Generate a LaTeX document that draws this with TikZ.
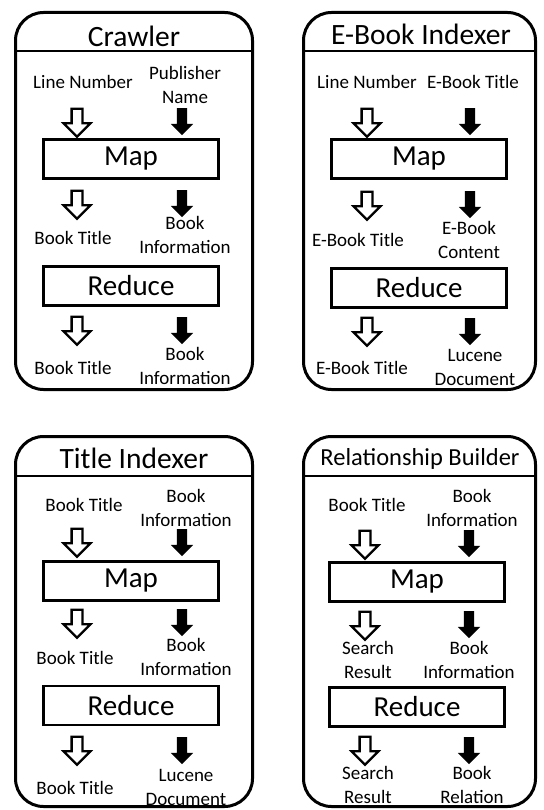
\documentclass[tikz,border=0pt]{standalone}
\usepackage{fontspec}
\setmainfont{Carlito}
\usetikzlibrary{shapes.arrows, positioning}

\begin{document}
\begin{tikzpicture}[x=1pt, y=-1pt,
    panel/.style={rectangle, draw, line width=3pt, rounded corners=28pt},
    heading/.style={font=\fontsize{29.5}{34}\selectfont, inner sep=0pt, anchor=base},
    divider/.style={line width=2pt},
    phase/.style={rectangle, draw, line width=2.7pt, minimum width=175pt,
                  minimum height=39pt, inner sep=0pt, font=\fontsize{29}{34}\selectfont},
    io/.style={align=center, inner sep=0pt, font=\fontsize{19}{24}\selectfont},
    keyarrow/.style={single arrow, draw, fill=white, line width=2.3pt, shape border rotate=270,
                     minimum height=28pt, single arrow head extend=8pt, inner ysep=0pt, inner xsep=4.25pt},
    valarrow/.style={single arrow, fill=black, shape border rotate=270,
                     minimum height=27pt, single arrow head extend=6pt, inner ysep=0pt, inner xsep=5pt}
  ]
    \useasboundingbox (0,0) rectangle (543,810);

    % Crawler
    \node[panel, minimum width=237pt, minimum height=377pt] (crawler) at (134,201) {};
    \node[heading] (crawler-title) at (134,47) {Crawler};
    \draw[divider] ([yshift=-40.5pt]crawler.north west) -- ([yshift=-40.5pt]crawler.north east);
    \node[io] (crawler-kin) at (83,82) {Line Number};
    \node[io] (crawler-vin) at (185,85) {Publisher\\Name};
    \node[keyarrow] (crawler-k1) at (77,120) {};
    \node[valarrow] (crawler-v1) at (182,119) {};
    \node[phase] (crawler-map) at (131,159) {Map};
    \node[keyarrow] (crawler-k2) at (77,202) {};
    \node[valarrow] (crawler-v2) at (182,201) {};
    \node[io] (crawler-kmid) at (73,238) {Book Title};
    \node[io] (crawler-vmid) at (185,235) {Book\\Information};
    \node[phase] (crawler-reduce) at (131,286) {Reduce};
    \node[keyarrow] (crawler-k3) at (77,328) {};
    \node[valarrow] (crawler-v3) at (182,328) {};
    \node[io] (crawler-kout) at (73,368) {Book Title};
    \node[io] (crawler-vout) at (185,366) {Book\\Information};

    % E-Book Indexer
    \node[panel, minimum width=232pt, minimum height=377pt] (ebook) at (419.5,201) {};
    \node[heading] (ebook-title) at (421,45) {E-Book Indexer};
    \draw[divider] ([yshift=-40.5pt]ebook.north west) -- ([yshift=-40.5pt]ebook.north east);
    \node[io] (ebook-kin) at (367,82) {Line Number};
    \node[io] (ebook-vin) at (473,82) {E-Book Title};
    \node[keyarrow] (ebook-k1) at (367,120) {};
    \node[valarrow] (ebook-v1) at (470,119) {};
    \node[phase] (ebook-map) at (419,159) {Map};
    \node[keyarrow] (ebook-k2) at (367,203) {};
    \node[valarrow] (ebook-v2) at (470,202) {};
    \node[io] (ebook-kmid) at (358,240) {E-Book Title};
    \node[io] (ebook-vmid) at (469,240) {E-Book\\Content};
    \node[phase] (ebook-reduce) at (419,288) {Reduce};
    \node[keyarrow] (ebook-k3) at (367,329) {};
    \node[valarrow] (ebook-v3) at (470,329) {};
    \node[io] (ebook-kout) at (362,368) {E-Book Title};
    \node[io] (ebook-vout) at (475,367) {Lucene\\Document};

    % Title Indexer
    \node[panel, minimum width=237pt, minimum height=370pt] (title) at (134,621.5) {};
    \node[heading] (title-title) at (134,468) {Title Indexer};
    \draw[divider] ([yshift=-40.5pt]title.north west) -- ([yshift=-40.5pt]title.north east);
    \node[io] (title-kin) at (84,505) {Book Title};
    \node[io] (title-vin) at (186,508) {Book\\Information};
    \node[keyarrow] (title-k1) at (77,540) {};
    \node[valarrow] (title-v1) at (182,540) {};
    \node[phase] (title-map) at (131,581) {Map};
    \node[keyarrow] (title-k2) at (77,621) {};
    \node[valarrow] (title-v2) at (182,620) {};
    \node[io] (title-kmid) at (75,658) {Book Title};
    \node[io] (title-vmid) at (186,657) {Book\\Information};
    \node[phase] (title-reduce) at (131,705.5) {Reduce};
    \node[keyarrow] (title-k3) at (77,748) {};
    \node[valarrow] (title-v3) at (182,748) {};
    \node[io] (title-kout) at (75,788) {Book Title};
    \node[io] (title-vout) at (186,787) {Lucene\\Document};

    % Relationship Builder
    \node[panel, minimum width=232pt, minimum height=370pt] (relation) at (419.5,621.5) {};
    \node[heading, font=\fontsize{24.5}{29}\selectfont] (relation-title) at (420,465) {Relationship Builder};
    \draw[divider] ([yshift=-40.5pt]relation.north west) -- ([yshift=-40.5pt]relation.north east);
    \node[io] (relation-kin) at (367,505) {Book Title};
    \node[io] (relation-vin) at (472,508) {Book\\Information};
    \node[keyarrow] (relation-k1) at (365,542) {};
    \node[valarrow] (relation-v1) at (469,541) {};
    \node[phase] (relation-map) at (417,582) {Map};
    \node[keyarrow] (relation-k2) at (365,623) {};
    \node[valarrow] (relation-v2) at (469,622) {};
    \node[io] (relation-kmid) at (368,660) {Search\\Result};
    \node[io] (relation-vmid) at (469,660) {Book\\Information};
    \node[phase] (relation-reduce) at (417,707) {Reduce};
    \node[keyarrow] (relation-k3) at (365,748) {};
    \node[valarrow] (relation-v3) at (469,748) {};
    \node[io] (relation-kout) at (368,785) {Search\\Result};
    \node[io] (relation-vout) at (472,785) {Book\\Relation};
  \end{tikzpicture}
\end{document}
